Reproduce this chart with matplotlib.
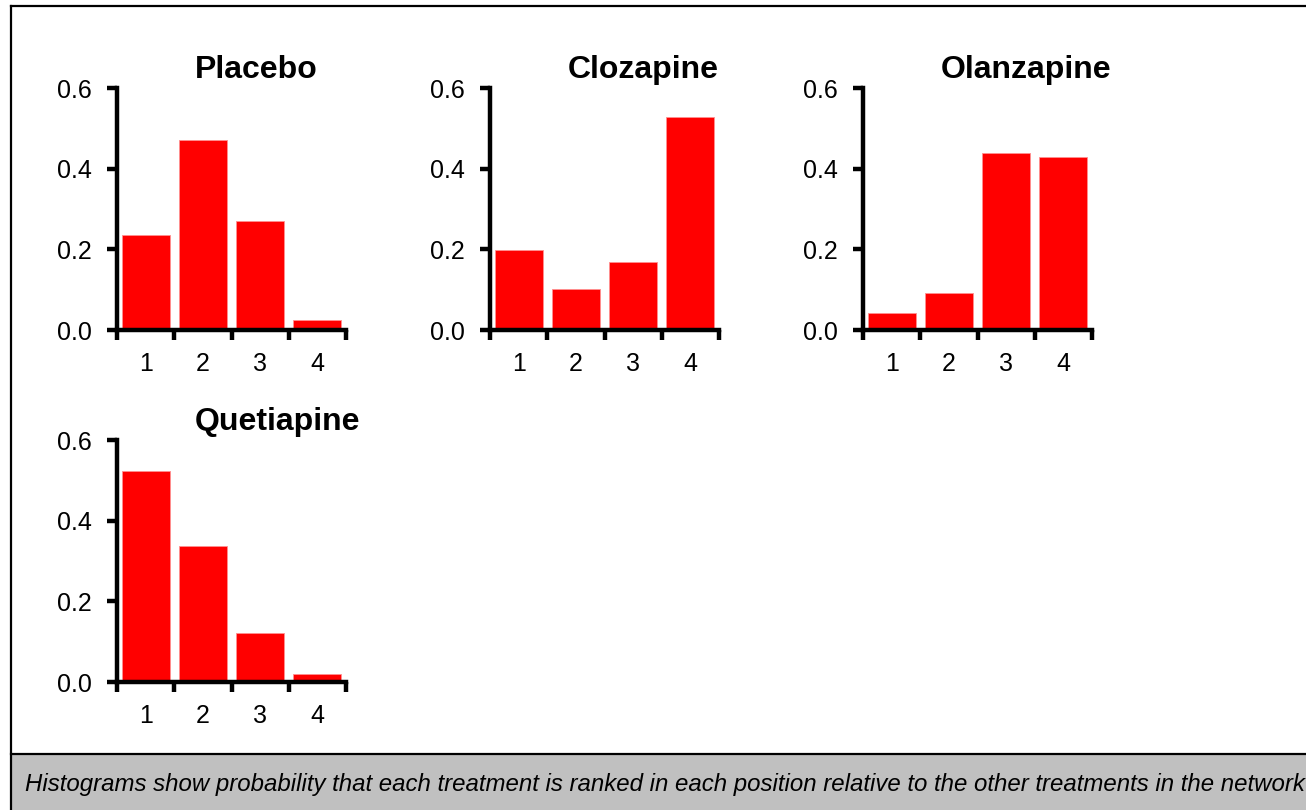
import matplotlib.pyplot as plt
from matplotlib.patches import Rectangle
from matplotlib.lines import Line2D

plt.rcParams['font.family'] = ['Liberation Sans', 'DejaVu Sans']

ranks = [1, 2, 3, 4]
treatments = ["Placebo", "Clozapine", "Olanzapine", "Quetiapine"]
placebo = [0.236, 0.470, 0.270, 0.025]
clozapine = [0.199, 0.101, 0.168, 0.528]
olanzapine = [0.041, 0.091, 0.439, 0.428]
quetiapine = [0.523, 0.336, 0.121, 0.020]
yticks = [0.0, 0.2, 0.4, 0.6]
caption = ("Histograms show probability that each treatment is ranked in each "
           "position relative to the other treatments in the network")

W, H = 1306, 810
fig = plt.figure(figsize=(W / 100, H / 100), dpi=100)

# pixel positions of each panel: (left, top)
positions = [(117, 88), (490, 88), (863, 88), (117, 440)]
ax_w, ax_h = 229, 242

for name, vals, (left, top) in zip(treatments,
                                   [placebo, clozapine, olanzapine, quetiapine],
                                   positions):
    ax = fig.add_axes([left / W, (H - top - ax_h) / H, ax_w / W, ax_h / H])
    ax.bar(ranks, vals, width=0.84, color="#ff0000", edgecolor="#ff9090",
           linewidth=0.6)
    ax.set_xlim(0.5, 4.5)
    ax.set_ylim(0, 0.6)
    for s in ["top", "right"]:
        ax.spines[s].set_visible(False)
    for s in ["left", "bottom"]:
        ax.spines[s].set_linewidth(3.2)
        ax.spines[s].set_capstyle("projecting")
    ax.set_yticks(yticks)
    ax.set_yticklabels([f"{v:.1f}" for v in yticks])
    ax.set_xticks([0.5, 1.5, 2.5, 3.5, 4.5])
    ax.set_xticklabels([])
    ax.set_xticks(ranks, minor=True)
    ax.set_xticklabels([str(r) for r in ranks], minor=True)
    ax.tick_params(axis="y", length=7, width=3.2, pad=11, labelsize=18)
    ax.tick_params(axis="x", which="major", length=7, width=3.2)
    ax.tick_params(axis="x", which="minor", length=0, pad=15.5, labelsize=18)
    fig.text((left + 78) / W, 1 - (top - 10) / H, name, fontsize=23,
             fontweight="bold", ha="left", va="baseline")

# caption band and frame
fig.patches.append(Rectangle((11 / W, 0), 1 - 11 / W, (H - 754) / H,
                             transform=fig.transFigure, facecolor="#c0c0c0",
                             edgecolor="none", zorder=0))
for xs, ys in [([11 / W, 1], [1 - 6 / H, 1 - 6 / H]),
               ([11 / W, 11 / W], [0, 1 - 6 / H]),
               ([11 / W, 1], [(H - 754) / H, (H - 754) / H])]:
    fig.lines.append(Line2D(xs, ys, transform=fig.transFigure, color="black",
                            linewidth=1.6))
fig.text(25 / W, 1 - 784 / H, caption, fontsize=17.3, style="italic",
         ha="left", va="center")

fig.savefig("out.png", dpi=100)
